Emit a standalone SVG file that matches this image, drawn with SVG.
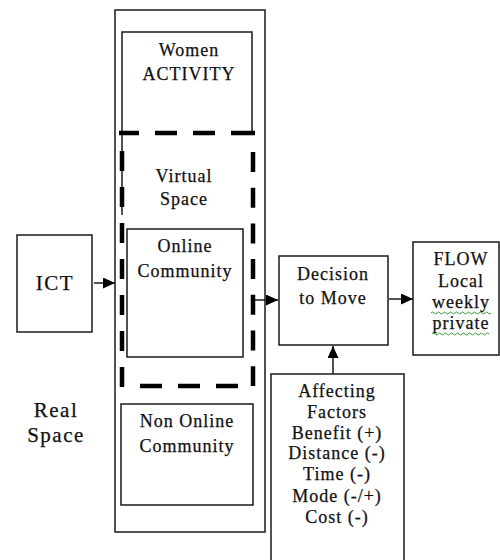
<svg xmlns="http://www.w3.org/2000/svg" width="500" height="560" viewBox="0 0 500 560">
<style>
  .box { fill: none; stroke: #1a1a1a; stroke-width: 1.5; }
  .dash { fill: none; stroke: #000; stroke-width: 4.5; }
  .t { font-family: "Liberation Serif", "Times New Roman", serif; font-size: 18px; letter-spacing: 1px; fill: #111; stroke: #111; stroke-width: 0.25; text-anchor: middle; }
  .big { font-size: 21px; letter-spacing: 1.5px; }
  .conn { fill: none; stroke: #1a1a1a; stroke-width: 1.5; }
  .sq { fill: none; stroke: #3a9a3a; stroke-width: 1; }
</style>
<defs>
  <marker id="arr" viewBox="0 0 12 12" refX="12" refY="6" markerWidth="12" markerHeight="11" markerUnits="userSpaceOnUse" orient="auto" preserveAspectRatio="none">
    <path d="M0 0 L12 6 L0 12 Z" fill="#000"/>
  </marker>
</defs>
<rect width="500" height="560" fill="#fff"/>

<g id="real-space">
  <rect class="box" x="115" y="10" width="150" height="522"/>
  <text class="t big" x="56" y="417">Real</text>
  <text class="t big" x="56" y="442">Space</text>
</g>

<g id="women-activity">
  <path class="box" d="M122 215 V32 H252 V133"/>
  <text class="t" x="189" y="56">Women</text>
  <text class="t" x="189" y="80">ACTIVITY</text>
</g>

<g id="virtual-space">
  <path class="dash" d="M119 133 H255" stroke-dasharray="20 16 22 16 22 16 25"/>
  <path class="dash" d="M253 152 V386" stroke-dasharray="20 15.7"/>
  <path class="dash" d="M122 387 V133" stroke-dasharray="20 16"/>
  <path class="dash" d="M140 386 H238" stroke-dasharray="22 16"/>
  <text class="t" x="184" y="182">Virtual</text>
  <text class="t" x="184" y="205">Space</text>
</g>

<g id="online-community">
  <rect class="box" x="127" y="229" width="116" height="128"/>
  <text class="t" x="185" y="252">Online</text>
  <text class="t" x="185" y="277">Community</text>
</g>

<g id="non-online-community">
  <rect class="box" x="121" y="404" width="132" height="101"/>
  <text class="t" x="187" y="427">Non Online</text>
  <text class="t" x="187" y="452">Community</text>
</g>

<g id="ict">
  <rect class="box" x="17" y="235" width="75" height="97"/>
  <text class="t big" x="55" y="290">ICT</text>
</g>

<g id="decision">
  <rect class="box" x="279" y="256" width="109" height="89"/>
  <text class="t" x="333" y="280">Decision</text>
  <text class="t" x="333" y="304">to Move</text>
</g>

<g id="flow">
  <rect class="box" x="413" y="242" width="86" height="113"/>
  <text class="t" x="461" y="265">FLOW</text>
  <text class="t" x="461" y="287">Local</text>
  <text class="t" x="461" y="308">weekly</text>
  <text class="t" x="461" y="329">private</text>
  <path class="sq" d="M431 313 q1.5 -2 3 0 t3 0 t3 0 t3 0 t3 0 t3 0 t3 0 t3 0 t3 0 t3 0 t3 0 t3 0 t3 0 t3 0 t3 0 t3 0 t3 0 t3 0 t3 0 t3 0"/>
  <path class="sq" d="M432 334 q1.5 -2 3 0 t3 0 t3 0 t3 0 t3 0 t3 0 t3 0 t3 0 t3 0 t3 0 t3 0 t3 0 t3 0 t3 0 t3 0 t3 0 t3 0 t3 0 t3 0"/>
</g>

<g id="affecting-factors">
  <rect class="box" x="271" y="374" width="133" height="200"/>
  <text class="t" x="337" y="397">Affecting</text>
  <text class="t" x="337" y="418">Factors</text>
  <text class="t" x="337" y="439">Benefit (+)</text>
  <text class="t" x="337" y="459">Distance (-)</text>
  <text class="t" x="337" y="480">Time (-)</text>
  <text class="t" x="337" y="502">Mode (-/+)</text>
  <text class="t" x="337" y="523">Cost (-)</text>
</g>

<g id="connectors">
  <line class="conn" x1="94" y1="283" x2="115" y2="283" marker-end="url(#arr)"/>
  <line class="conn" x1="255" y1="300" x2="278" y2="300" marker-end="url(#arr)"/>
  <line class="conn" x1="389" y1="299" x2="413" y2="299" marker-end="url(#arr)"/>
  <line class="conn" x1="333" y1="374" x2="333" y2="346" marker-end="url(#arr)"/>
</g>
</svg>
